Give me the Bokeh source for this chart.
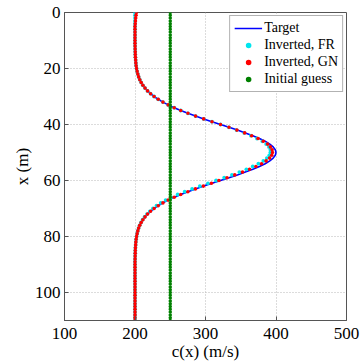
from bokeh.plotting import figure
from bokeh.models import Range1d, FixedTicker
from bokeh.embed import file_html
from bokeh.resources import INLINE

# depth samples (m)
depth = list(range(0, 111))

# target velocity profile c(x) (m/s)
target = [
    200.0, 200.0, 200.0, 200.0, 200.0, 200.0, 200.0, 200.0, 200.0, 200.0,
    200.0, 200.0, 200.1, 200.2, 200.3, 200.4, 200.6, 200.9, 201.2, 201.6,
    202.2, 203.0, 204.0, 205.2, 206.8, 208.8, 211.2, 214.2, 217.8, 222.1,
    227.1, 232.9, 239.6, 247.1, 255.6, 264.9, 275.1, 285.9, 297.4, 309.2,
    321.3, 333.4, 345.2, 356.5, 367.1, 376.5, 384.6, 391.2, 396.0, 399.0,
    400.0, 399.0, 396.0, 391.2, 384.6, 376.5, 367.1, 356.5, 345.2, 333.4,
    321.3, 309.2, 297.4, 285.9, 275.1, 264.9, 255.6, 247.1, 239.6, 232.9,
    227.1, 222.1, 217.8, 214.2, 211.2, 208.8, 206.8, 205.2, 204.0, 203.0,
    202.2, 201.6, 201.2, 200.9, 200.6, 200.4, 200.3, 200.2, 200.1, 200.0,
    200.0, 200.0, 200.0, 200.0, 200.0, 200.0, 200.0, 200.0, 200.0, 200.0,
    200.0, 200.0, 200.0, 200.0, 200.0, 200.0, 200.0, 200.0, 200.0, 200.0,
    200.0,
]

# inverted, Fletcher-Reeves
inv_fr = [
    200.0, 200.0, 200.0, 200.0, 200.0, 200.0, 200.0, 200.0, 200.0, 200.0,
    200.0, 200.0, 200.1, 200.2, 200.3, 200.4, 200.6, 200.9, 201.2, 201.6,
    202.2, 203.0, 204.0, 205.2, 206.8, 208.8, 211.2, 214.2, 217.8, 222.1,
    227.1, 232.9, 239.6, 247.1, 255.6, 264.9, 275.1, 285.9, 297.4, 309.2,
    321.3, 333.2, 344.0, 355.0, 364.5, 373.0, 380.5, 386.0, 390.0, 392.0,
    392.0, 390.5, 387.0, 382.0, 375.0, 367.0, 358.0, 348.0, 337.5, 326.5,
    315.0, 303.5, 292.0, 281.0, 270.5, 260.5, 251.5, 243.5, 236.5, 230.5,
    225.5, 221.0, 217.0, 213.5, 210.8, 208.5, 206.6, 205.1, 203.9, 203.0,
    202.2, 201.6, 201.2, 200.9, 200.6, 200.4, 200.3, 200.2, 200.1, 200.0,
    200.0, 200.0, 200.0, 200.0, 200.0, 200.0, 200.0, 200.0, 200.0, 200.0,
    200.0, 200.0, 200.0, 200.0, 200.0, 200.0, 200.0, 200.0, 200.0, 200.0,
    200.0,
]

# inverted, Gauss-Newton
inv_gn = [
    202.0, 201.5, 201.0, 200.6, 200.3, 200.0, 200.0, 200.0, 200.0, 200.0,
    200.0, 200.0, 200.1, 200.2, 200.3, 200.4, 200.6, 200.9, 201.2, 201.6,
    202.2, 203.0, 204.0, 205.2, 206.8, 208.8, 211.2, 214.2, 217.8, 222.1,
    227.1, 232.9, 239.6, 247.1, 255.6, 264.9, 275.1, 285.9, 297.4, 309.2,
    321.3, 333.3, 344.5, 355.5, 365.5, 374.5, 382.0, 388.0, 392.0, 394.5,
    395.0, 394.0, 391.0, 386.0, 379.5, 371.5, 362.5, 352.5, 341.5, 330.5,
    319.0, 308.5, 297.0, 285.7, 275.0, 264.9, 255.6, 247.1, 239.6, 232.9,
    227.1, 222.1, 217.8, 214.2, 211.2, 208.8, 206.8, 205.2, 204.0, 203.0,
    202.2, 201.6, 201.2, 200.9, 200.6, 200.4, 200.3, 200.2, 200.1, 200.0,
    200.0, 200.0, 200.0, 200.0, 200.0, 200.0, 200.0, 200.0, 200.0, 200.0,
    200.0, 200.0, 200.0, 200.0, 200.0, 200.0, 200.0, 200.0, 200.0, 200.0,
    200.0,
]

# initial guess
initial = [250.0] * len(depth)

x_ticks = [100, 200, 300, 400, 500]
y_ticks = [0, 20, 40, 60, 80, 100]
x_label = "c(x) (m/s)"
y_label = "x (m)"

FONT = "Liberation Serif"

p = figure(
    frame_width=282, frame_height=308,
    x_range=Range1d(100, 500), y_range=Range1d(110, 0),
    output_backend="svg", toolbar_location=None,
    min_border_left=64, min_border_right=16, min_border_top=12, min_border_bottom=30,
    background_fill_color="white", border_fill_color="white",
)

p.outline_line_color = "#555555"
p.outline_line_width = 1

for ax, ticks in ((p.xaxis[0], x_ticks), (p.yaxis[0], y_ticks)):
    ax.ticker = FixedTicker(ticks=ticks)
    ax.major_label_text_font = FONT
    ax.major_label_text_font_size = "17px"
    ax.major_label_text_color = "black"
    ax.major_tick_in = 4
    ax.major_tick_out = 0
    ax.minor_tick_line_color = None
    ax.axis_line_color = "#555555"
    ax.major_tick_line_color = "#555555"
    ax.axis_label_text_font = FONT
    ax.axis_label_text_font_size = "17px"
    ax.axis_label_text_font_style = "normal"
    ax.axis_label_text_color = "black"
p.xaxis.axis_label = x_label
p.yaxis.axis_label = y_label
p.xaxis.major_label_standoff = 7
p.yaxis.major_label_standoff = 4
p.xaxis.axis_label_standoff = 0
p.yaxis.axis_label_standoff = 0

for g in (p.xgrid[0], p.ygrid[0]):
    g.grid_line_color = "#b8b8b8"
    g.grid_line_dash = "1 2"
    g.grid_line_width = 1
p.xgrid.ticker = FixedTicker(ticks=[200, 300, 400])
p.ygrid.ticker = FixedTicker(ticks=[20, 40, 60, 80, 100])

p.line(target, depth, line_color="#0000ff", line_width=1.6, legend_label="Target")
p.scatter(inv_fr, depth, marker="circle", size=3.8, fill_color="#00e5ee",
          line_color=None, legend_label="Inverted, FR")
p.scatter(inv_gn, depth, marker="circle", size=3.6, fill_color="#ff0000",
          line_color=None, legend_label="Inverted, GN")
p.scatter(initial, depth, marker="circle", size=3.5, fill_color="#008000",
          line_color=None, legend_label="Initial guess")

lg = p.legend[0]
lg.location = "top_right"
lg.margin = 3
lg.padding = 4
lg.spacing = 1
lg.label_height = 14
lg.glyph_width = 28
lg.glyph_height = 14
lg.label_standoff = 2
lg.label_text_font = FONT
lg.label_text_font_size = "14px"
lg.label_text_color = "black"
lg.border_line_color = "#666666"
lg.border_line_width = 1
lg.background_fill_alpha = 1.0

open("out.html", "w").write(file_html(p, INLINE))
